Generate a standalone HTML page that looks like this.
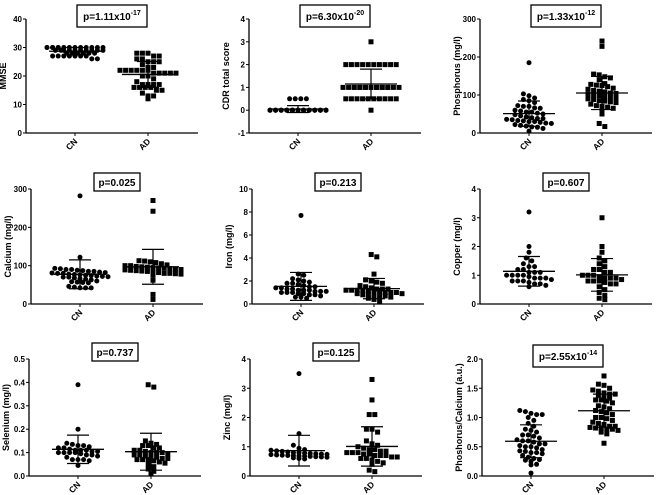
<!DOCTYPE html>
<html><head><meta charset="utf-8"><style>
body{margin:0;background:#fff;}
svg{display:block;font-family:"Liberation Sans",Arial,sans-serif;font-weight:bold;}
</style></head><body>
<svg id="fig" width="658" height="495" viewBox="0 0 658 495" xmlns="http://www.w3.org/2000/svg"></svg>
<script>
const groups = ["CN","AD"];
const mmseCN = [30,30,30,30,30,30,30,30,30,30,30,30,30,30,29,29,29,29,29,29,29,29,29,29,28,28,28,28,28,28,27,27,27,27,27,27,27,26,26];
const mmseAD = [28,28,28,27,27,26,26,25,25,25,24,23,23,22,22,22,22,22,22,21,21,21,21,21,20,20,19,18,17,17,17,17,16,16,16,16,15,15,14,13,13,12];
const cdrCN = [0.5,0.5,0.5,0.5,0,0,0,0,0,0,0,0,0,0,0,0,0,0,0,0,0,0,0,0,0,0,0,0,0,0,0,0,0,0,0,0,0,0,0,0];
const cdrAD = [3,2,2,2,2,2,2,2,2,2,2,1,1,1,1,1,1,1,1,1,1,1,1,1,1,1,1,1,1,0.5,0.5,0.5,0.5,0.5,0.5,0.5,0.5,0.5,0.5,0];
const phCN = [185,103,98,92,88,85,80,72,70,70,66,65,60,58,55,55,52,50,48,45,42,40,38,38,36,35,33,32,30,30,28,26,25,22,20,18,16,15,12,5];
const phAD = [242,228,155,153,148,145,140,130,128,126,125,122,118,115,112,110,108,105,104,102,100,98,96,94,92,90,88,85,84,82,80,76,72,70,68,65,62,50,25,17];
const caCN = [282,122,93,92,90,90,88,87,85,85,83,82,81,80,80,78,77,76,75,74,73,72,71,70,70,68,66,65,63,60,58,57,56,55,46,44,42,42,42];
const caAD = [270,242,113,112,110,108,105,102,100,100,98,97,96,95,94,93,92,91,90,89,88,87,86,85,84,82,80,80,79,78,75,62,25,12];
const feCN = [7.7,2.6,2.5,2.2,2.1,2.0,1.9,1.8,1.8,1.7,1.6,1.5,1.5,1.4,1.4,1.3,1.3,1.2,1.2,1.2,1.1,1.1,1.1,1.0,1.0,1.0,0.9,0.9,0.8,0.8,0.7,0.6,0.6,0.5];
const feAD = [4.3,4.1,2.6,2.1,2.0,1.9,1.8,1.6,1.5,1.4,1.3,1.3,1.3,1.2,1.2,1.2,1.2,1.1,1.1,1.1,1.0,1.0,1.0,0.9,0.9,0.8,0.8,0.7,0.7,0.7,0.6,0.5,0.4,0.2];
const cuCN = [3.2,2.0,1.8,1.6,1.5,1.4,1.3,1.3,1.2,1.2,1.1,1.1,1.1,1.0,1.0,1.0,1.0,0.95,0.9,0.9,0.9,0.85,0.8,0.8,0.8,0.75,0.7,0.7,0.65,0.6];
const cuAD = [3.0,2.0,1.8,1.6,1.5,1.4,1.3,1.2,1.2,1.1,1.1,1.0,1.0,1.0,0.95,0.9,0.9,0.9,0.85,0.8,0.8,0.8,0.75,0.7,0.7,0.6,0.5,0.4,0.3,0.2,0.15];
const seCN = [0.39,0.2,0.14,0.135,0.13,0.13,0.125,0.12,0.12,0.115,0.11,0.11,0.11,0.105,0.105,0.1,0.1,0.1,0.1,0.095,0.09,0.09,0.085,0.08,0.07,0.07,0.07,0.065,0.045];
const seAD = [0.39,0.38,0.15,0.14,0.135,0.13,0.13,0.12,0.12,0.11,0.11,0.105,0.1,0.1,0.1,0.095,0.09,0.09,0.085,0.08,0.08,0.075,0.075,0.07,0.07,0.07,0.065,0.06,0.055,0.05,0.04,0.03,0.02,0.01];
const znCN = [3.5,1.45,1.05,0.95,0.9,0.88,0.86,0.84,0.82,0.8,0.8,0.78,0.77,0.76,0.75,0.74,0.73,0.72,0.71,0.7,0.7,0.69,0.68,0.67,0.66,0.65,0.64,0.62,0.6,0.58];
const znAD = [3.3,2.6,2.1,2.1,1.6,1.6,1.5,1.2,1.1,1.05,1.0,0.95,0.9,0.9,0.85,0.85,0.8,0.8,0.8,0.75,0.75,0.7,0.7,0.7,0.65,0.65,0.6,0.6,0.55,0.5,0.45,0.4,0.2,0.15];
const rtCN = [1.12,1.1,1.07,1.05,1.05,1.0,0.95,0.9,0.85,0.8,0.78,0.75,0.7,0.7,0.68,0.65,0.62,0.6,0.6,0.58,0.55,0.55,0.52,0.5,0.5,0.48,0.45,0.43,0.42,0.4,0.4,0.38,0.35,0.32,0.3,0.28,0.27,0.25,0.2,0.19,0.05];
const rtAD = [1.71,1.57,1.55,1.5,1.47,1.45,1.42,1.4,1.4,1.38,1.35,1.33,1.3,1.3,1.28,1.25,1.2,1.18,1.15,1.12,1.1,1.08,1.05,1.0,1.0,0.98,0.95,0.92,0.9,0.88,0.85,0.85,0.83,0.82,0.82,0.8,0.8,0.78,0.75,0.72,0.56];
const yTicks1 = [0,10,20,30,40];
const yTicks2 = [-1,0,1,2,3,4];
const yTicks3 = [0,100,200,300];
const yTicksFe = [0,2,4,6,8,10];
const yTicks4 = [0,1,2,3,4];
const yTicksSe = ["0.0","0.1","0.2","0.3","0.4","0.5"];
const yTicksRt = ["0.0","0.5","1.0","1.5","2.0"];

const panels = [
 {id:"mmse",ax:26,top:19,bot:133,min:0,max:40,ticks:yTicks1,title:"MMSE",p:["p=1.11x10","-17"],cn:mmseCN,ad:mmseAD},
 {id:"cdr",ax:249,top:19,bot:133,min:-1,max:4,ticks:yTicks2,title:"CDR total score",p:["p=6.30x10","-20"],cn:cdrCN,ad:cdrAD},
 {id:"phosphorus",ax:480,top:19,bot:133,min:0,max:300,ticks:yTicks3,title:"Phosphorus (mg/l)",p:["p=1.33x10","-12"],cn:phCN,ad:phAD},
 {id:"calcium",ax:31,top:189,bot:304,min:0,max:300,ticks:yTicks3,title:"Calcium (mg/l)",p:["p=0.025",""],cn:caCN,ad:caAD},
 {id:"iron",ax:252,top:189,bot:304,min:0,max:10,ticks:yTicksFe,title:"Iron (mg/l)",p:["p=0.213",""],cn:feCN,ad:feAD},
 {id:"copper",ax:480,top:189,bot:304,min:0,max:4,ticks:yTicks4,title:"Copper (mg/l)",p:["p=0.607",""],cn:cuCN,ad:cuAD},
 {id:"selenium",ax:29,top:359,bot:476,min:0,max:0.5,ticks:yTicksSe,title:"Selenium (mg/l)",p:["p=0.737",""],cn:seCN,ad:seAD},
 {id:"zinc",ax:250,top:359,bot:476,min:0,max:4,ticks:yTicks4,title:"Zinc (mg/l)",p:["p=0.125",""],cn:znCN,ad:znAD},
 {id:"ratio",ax:482,top:359,bot:476,min:0,max:2,ticks:yTicksRt,title:"Phoshorus/Calcium (a.u.)",p:["p=2.55x10","-14"],cn:rtCN,ad:rtAD}
];
const NS="http://www.w3.org/2000/svg";
const svg=document.getElementById('fig');
function mk(tag,attrs,parent){const e=document.createElementNS(NS,tag);for(const k in attrs)e.setAttribute(k,attrs[k]);(parent||svg).appendChild(e);return e;}
function mean(a){return a.reduce((s,v)=>s+v,0)/a.length;}
function sd(a){const m=mean(a);return Math.sqrt(a.reduce((s,v)=>s+(v-m)*(v-m),0)/(a.length-1));}

panels.forEach(P=>{
  const g=mk('g',{});
  
  
  const right=P.ax+172;
  const y=v=>P.bot-(v-P.min)/(P.max-P.min)*(P.bot-P.top);
  const xs=[P.ax+49,P.ax+122];
  const ya=mk('line',{x1:P.ax,y1:P.top,x2:P.ax,y2:P.bot,stroke:'#000','stroke-width':1.3},g);
  
  
  const xa=mk('line',{x1:P.ax,y1:P.bot,x2:right,y2:P.bot,stroke:'#000','stroke-width':1.3},g);
  
  
  P.ticks.forEach(t=>{
    const v=parseFloat(t);const ty=y(v);
    mk('line',{x1:P.ax-3,y1:ty,x2:P.ax,y2:ty,stroke:'#000','stroke-width':1},g);
    const tl=mk('text',{x:P.ax-4,y:ty+3,'font-size':8,'text-anchor':'end'},g);
    tl.textContent=t;
    
    
  });
  const yt=mk('text',{x:0,y:0,'font-size':9,'text-anchor':'middle',transform:`translate(${P.ax-20},${(P.top+P.bot)/2}) rotate(-90)`},g);
  yt.textContent=P.title;
  
  
  groups.forEach((gn,i)=>{
    mk('line',{x1:xs[i],y1:P.bot,x2:xs[i],y2:P.bot+3,stroke:'#000'},g);
    const xl=mk('text',{x:0,y:0,'font-size':8.5,'text-anchor':'end',transform:`translate(${xs[i]+3},${P.bot+9}) rotate(-45)`},g);
    xl.textContent=gn;
    
    
    const vals=(i===0?P.cn:P.ad).slice().sort((a,b)=>b-a);
    let rows=[];
    vals.forEach(v=>{const py=y(v);const r=rows.length?rows[rows.length-1]:null;
      if(r&&Math.abs(r.y-py)<4.5&&r.pts.length<11)r.pts.push(py);else rows.push({y:py,pts:[py]});});
    rows.forEach(r=>{const n=r.pts.length;r.pts.forEach((py,k)=>{
      const px=xs[i]+(k-(n-1)/2)*5.6;
      let m;
      if(i===0)m=mk('circle',{cx:px,cy:py,r:2.5,fill:'#000'},g);
      else m=mk('rect',{x:px-2.5,y:py-2.5,width:5,height:5,fill:'#000'},g);
      
      
    });});
    const arr=i===0?P.cn:P.ad;const m=mean(arr),s=sd(arr);
    const ml=mk('line',{x1:xs[i]-26,y1:y(m),x2:xs[i]+26,y2:y(m),stroke:'#000','stroke-width':1.3},g);
    
    
    const lo=Math.max(P.min,m-s),hi=m+s;
    const eb=mk('path',{d:`M${xs[i]},${y(lo)}V${y(hi)}M${xs[i]-11},${y(hi)}H${xs[i]+11}M${xs[i]-11},${y(lo)}H${xs[i]+11}`,stroke:'#000','stroke-width':1.2,fill:'none'},g);
    
    
  });
  const cx=P.ax+86;
  const sup=P.p[1]!=='';
  const bw=sup?70:46, bh=sup?22:18, by=P.top-(sup?14:16);
  const box=mk('rect',{x:cx-bw/2,y:by,width:bw,height:bh,fill:'#fff',stroke:'#000','stroke-width':1.3},g);
  
  
  const pt=mk('text',{x:cx,y:by+bh/2+4,'font-size':10,'text-anchor':'middle'},g);
  
  
  const t1=mk('tspan',{},pt);t1.textContent=P.p[0];
  if(sup){const t2=mk('tspan',{'font-size':7,dy:-5},pt);t2.textContent=P.p[1];}
});
</script>
</body></html>
